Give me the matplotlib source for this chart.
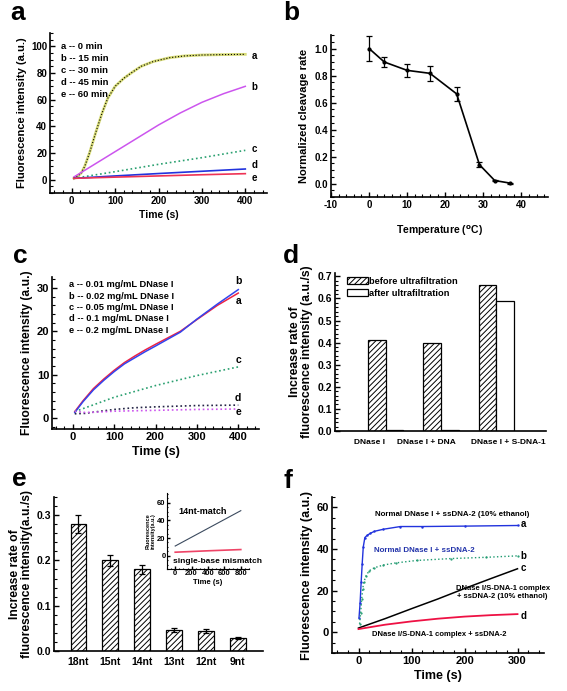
import numpy as np
import matplotlib
matplotlib.use("Agg")
import matplotlib.pyplot as plt

plt.rcParams["font.family"] = ["Liberation Sans", "DejaVu Sans"]
plt.rcParams["font.weight"] = "bold"
plt.rcParams["axes.labelweight"] = "bold"
plt.rcParams["mathtext.default"] = "bf"
plt.rcParams["hatch.linewidth"] = 0.7
plt.rcParams["axes.unicode_minus"] = False

# ---- panel a: time course after different incubation times
a_t_fast = [5, 15, 22, 30, 41, 56, 70, 83, 100, 120, 137, 160, 188, 226, 260, 300, 350, 400]
a_fast = [1, 3, 5, 10, 20, 36, 50, 61, 70, 76, 80, 85, 88.6, 91.5, 92.8, 93.5, 93.8, 94]
a_t_b = [5, 50, 100, 150, 200, 250, 300, 350, 400]
a_b = [2, 11, 21, 31, 41, 50, 58, 64.5, 70]
a_t_slow = [5, 100, 200, 300, 400]
a_c = [1, 6, 11.5, 16.5, 22]
a_d = [1, 2.8, 4.6, 6.3, 8]
a_e = [1, 1.9, 2.8, 3.7, 4.5]
a_legend = ["a -- 0 min", "b -- 15 min", "c -- 30 min", "d -- 45 min", "e -- 60 min"]

# ---- panel b: temperature
b_temp = [0, 4, 10, 16, 23, 29, 33, 37]
b_rate = [1.0, 0.90, 0.838, 0.816, 0.664, 0.139, 0.022, 0.003]
b_err = [0.095, 0.035, 0.046, 0.057, 0.052, 0.019, 0.005, 0.003]

# ---- panel c: DNase I concentration
c_t_ab = [5, 25, 50, 75, 100, 125, 150, 175, 200, 230, 260, 300, 350, 400]
c_a = [1.5, 4, 6.8, 9, 11, 12.8, 14.3, 15.7, 17, 18.5, 20, 22.7, 26, 28.8]
c_b = [1.3, 3.8, 6.5, 8.7, 10.7, 12.5, 13.9, 15.3, 16.6, 18.2, 19.8, 22.8, 26.3, 29.6]
c_t_c = [5, 100, 200, 300, 400]
c_c = [1.5, 4.8, 7.5, 9.8, 11.8]
c_t_d = [5, 30, 60, 100, 150, 200, 300, 400]
c_d = [1.0, 1.1, 1.5, 2.0, 2.4, 2.6, 2.9, 3.0]
c_t_e = [5, 30, 60, 100, 200, 300, 400]
c_e = [1.6, 1.3, 1.4, 1.6, 1.8, 2.0, 2.1]
c_legend = ["a -- 0.01 mg/mL DNase I", "b -- 0.02 mg/mL DNase I", "c -- 0.05 mg/mL DNase I",
            "d -- 0.1 mg/mL DNase I", "e -- 0.2 mg/mL DNase I"]

# ---- panel d: ultrafiltration
d_groups = ["DNase I", "DNase I + DNA", "DNase I + S-DNA-1"]
d_before = [0.414, 0.399, 0.662]
d_after = [0.005, 0.003, 0.590]

# ---- panel e: probe length
e_labels = ["18nt", "15nt", "14nt", "13nt", "12nt", "9nt"]
e_rate = [0.280, 0.200, 0.180, 0.047, 0.044, 0.029]
e_err = [0.020, 0.013, 0.010, 0.004, 0.004, 0.002]
inset_t = [0, 200, 400, 600, 800]
inset_match = [11, 21, 31, 41, 51]
inset_mismatch = [4, 4.8, 5.6, 6.3, 7]

# ---- panel f: ethanol
f_t_a = [1, 3, 5, 7, 9, 12, 16, 22, 30, 47, 79, 120, 200, 300]
f_a = [7, 14, 24, 33, 41, 45.5, 46.5, 47.5, 48.5, 49.5, 50.8, 50.8, 51, 51.3]
f_t_b = [2, 4, 6, 8, 10, 14, 20, 30, 47, 70, 110, 174, 240, 300]
f_b = [4, 9, 16, 21, 24, 27, 29.5, 31, 32.3, 33.3, 34.5, 35.4, 36, 36.7]
f_t_cd = [0, 50, 100, 150, 200, 250, 300]
f_c = [2, 6.5, 11.3, 16, 21, 25.8, 30.5]
f_d = [1.5, 3.6, 5.2, 6.5, 7.5, 8.2, 8.7]

W, H = 567, 691
fig = plt.figure(figsize=(W / 100, H / 100), dpi=100)


def px_axes(x0, y0, x1, y1):
    return fig.add_axes([x0 / W, 1 - y1 / H, (x1 - x0) / W, (y1 - y0) / H])


def style(ax, fs=7):
    for s in ["top", "right"]:
        ax.spines[s].set_visible(False)
    for s in ["left", "bottom"]:
        ax.spines[s].set_linewidth(1.2)
    ax.minorticks_on()
    ax.tick_params(which="major", direction="in", length=3.5, width=1, labelsize=fs, pad=2)
    ax.tick_params(which="minor", direction="in", length=2, width=0.8)


def panel_letter(x, y, s):
    fig.text(x / W, 1 - y / H, s, fontsize=19, fontweight="bold", va="baseline", ha="left")


# panel a
ax = px_axes(50, 33, 267, 193)
style(ax, 7)
ax.plot(a_t_fast, a_fast, color="#d8dc78", lw=2)
ax.plot(a_t_fast, a_fast, color="black", lw=0.8, ls=":")
ax.plot(a_t_b, a_b, color="#cc55ee", lw=1.1)
ax.plot(a_t_slow, a_c, color="#2aa070", lw=1.2, ls=":")
ax.plot(a_t_slow, a_d, color="#2233dd", lw=1.2)
ax.plot(a_t_slow, a_e, color="#ee3355", lw=1.2)
for lab, y in zip("abcde", [93, 69.7, 23, 11, 1.5]):
    ax.text(415, y, lab, fontsize=7, va="center", ha="left")
for i, s in enumerate(a_legend):
    ax.text(-25, 100 - 9.1 * i, s, fontsize=6.8, va="center")
ax.set_xlim(-50, 450)
ax.set_ylim(-10, 110)
ax.set_xticks([0, 100, 200, 300, 400])
ax.set_yticks([0, 20, 40, 60, 80, 100])
ax.set_xlabel("Time (s)", fontsize=7.5, labelpad=3)
ax.set_ylabel("Fluorescence intensity (a.u.)", fontsize=8, labelpad=3)
panel_letter(10, 20, "a")

# panel b
ax = px_axes(331, 35, 548, 197)
style(ax, 7)
ax.errorbar(b_temp, b_rate, yerr=b_err, color="black", lw=1.2, marker="o", ms=2,
            capsize=2.5, elinewidth=0.9, capthick=0.9)
ax.set_xlim(-10, 47)
ax.set_ylim(-0.1, 1.1)
ax.set_xticks([-10, 0, 10, 20, 30, 40])
ax.set_yticks([0.0, 0.2, 0.4, 0.6, 0.8, 1.0])
ax.set_xlabel(r"Temperature ($^{o}$C)", fontsize=7.5, labelpad=10)
ax.set_ylabel("Normalized cleavage rate", fontsize=8, labelpad=4)
panel_letter(283, 20, "b")

# panel c
ax = px_axes(52, 277, 259, 429)
style(ax, 8)
ax.plot(c_t_ab, c_a, color="#ee2244", lw=1.1)
ax.plot(c_t_ab, c_b, color="#3344ee", lw=1.1)
ax.plot(c_t_c, c_c, color="#2aa070", lw=1.2, ls=":")
ax.plot(c_t_d, c_d, color="#222244", lw=1.2, ls=":")
ax.plot(c_t_e, c_e, color="#cc55ee", lw=1.2, ls=":")
for lab, y in zip("badce", [31.5, 27, 4.6, 13.4, 1.3]):
    ax.text(400, y, lab, fontsize=7.5, va="center", ha="center")
for i, s in enumerate(c_legend):
    ax.text(-10, 30.7 - 2.62 * i, s, fontsize=6.7, va="center")
ax.set_xlim(-50, 450)
ax.set_ylim(-2.5, 32.5)
ax.set_xticks([0, 100, 200, 300, 400])
ax.set_yticks([0, 10, 20, 30])
ax.set_xlabel("Time (s)", fontsize=9, labelpad=3)
ax.set_ylabel("Fluorescence intensity (a.u.)", fontsize=8.7, labelpad=3)
panel_letter(13, 263, "c")

# panel d
ax = px_axes(335, 273, 546, 431)
style(ax, 7.5)
xg = np.arange(1, len(d_groups) + 1)
bw = 0.32
ax.bar(xg - bw / 2, d_before, bw, facecolor="white", edgecolor="black", hatch="//////",
       lw=0.9, label="before ultrafiltration")
ax.bar(xg + bw / 2, d_after, bw, facecolor="white", edgecolor="black",
       lw=0.9, label="after ultrafiltration")
ax.set_xlim(0.08, 3.9)
ax.set_ylim(0, 0.715)
ax.set_yticks([0.0, 0.1, 0.2, 0.3, 0.4, 0.5, 0.6, 0.7])
ax.set_xticks([0.70, 1.73, 3.22])
ax.set_xticklabels(d_groups, fontsize=6)
ax.tick_params(axis="x", which="both", length=0, pad=6)
ax.set_ylabel("Increase rate of\nfluorescence intensity (a.u./s)", fontsize=8.8, labelpad=3,
              linespacing=1.0)
ax.legend(loc="upper left", bbox_to_anchor=(0.04, 1.0), frameon=False, fontsize=6.7,
          handlelength=2.2, handleheight=0.9, handletextpad=0.2, labelspacing=0.3,
          borderaxespad=0)
panel_letter(283, 263, "d")

# panel e
ax = px_axes(54, 497, 263, 651)
style(ax, 7.5)
xe = np.arange(len(e_labels))
ax.bar(xe, e_rate, 0.5, yerr=e_err, facecolor="white", edgecolor="black", hatch="//////",
       lw=0.9, error_kw=dict(ecolor="black", elinewidth=0.9, capsize=2.5, capthick=0.9))
ax.set_xlim(-0.77, 5.8)
ax.set_ylim(0, 0.34)
ax.set_xticks(xe)
ax.set_xticklabels(e_labels, fontsize=7.5)
ax.tick_params(axis="x", which="both", length=0, pad=4)
ax.set_yticks([0.0, 0.1, 0.2, 0.3])
ax.set_ylabel("Increase rate of\nfluorescence intensity(a.u./s)", fontsize=8.7, labelpad=3,
              linespacing=1.0)
panel_letter(12, 486, "e")

ins = px_axes(167, 493, 249, 569)
style(ins, 5.5)
ins.tick_params(which="major", length=2, pad=1)
ins.tick_params(which="minor", length=1)
for s in ["left", "bottom"]:
    ins.spines[s].set_linewidth(0.8)
ins.plot(inset_t, inset_match, color="#3b4a5e", lw=0.8)
ins.plot(inset_t, inset_mismatch, color="#ee4466", lw=1.2)
ins.set_xlim(-100, 900)
ins.set_ylim(-15, 71)
ins.set_xticks([0, 200, 400, 600, 800])
ins.set_yticks([0, 20, 40, 60])
ins.text(340, 50, "14nt-match", fontsize=6.5, ha="center", va="center")
ins.text(520, -6, "single-base mismatch", fontsize=6, ha="center", va="center")
ins.set_xlabel("Time (s)", fontsize=5.5, labelpad=1)
ins.set_ylabel("Fluorescence\nintensity(a.u.)", fontsize=4, labelpad=1, linespacing=0.9)

# panel f
ax = px_axes(332, 497, 544, 653)
style(ax, 8)
ax.plot(f_t_a, f_a, color="#2233dd", lw=1.0, marker=".", ms=1.5)
ax.plot(f_t_b, f_b, color="#1f9a70", lw=1.0, ls=":")
ax.plot(f_t_b, f_b, color="#1f9a70", lw=0.8, marker=".", ms=1.2, ls="none")
ax.plot(f_t_cd, f_c, color="black", lw=1.1)
ax.plot(f_t_cd, f_d, color="#ee1144", lw=1.3)
for lab, y in zip("abcd", [52, 36.5, 30.8, 8]):
    ax.text(311, y, lab, fontsize=7, va="center", ha="center")
ax.text(177, 56.8, "Normal DNase I + ssDNA-2 (10% ethanol)", fontsize=5.7, ha="center", va="center")
ax.text(30, 39.2, "Normal DNase I + ssDNA-2", fontsize=5.7, ha="left", va="center", color="#2233aa")
ax.text(272, 19, "DNase I/S-DNA-1 complex\n+ ssDNA-2 (10% ethanol)", fontsize=5.5,
        ha="center", va="center", linespacing=1.1)
ax.text(152, -1.1, "DNase I/S-DNA-1 complex + ssDNA-2", fontsize=5.5, ha="center", va="center")
ax.set_xlim(-50, 350)
ax.set_ylim(-10, 65)
ax.set_xticks([0, 100, 200, 300])
ax.set_yticks([0, 20, 40, 60])
ax.set_xlabel("Time (s)", fontsize=9, labelpad=3)
ax.set_ylabel("Fluorescence intensity (a.u.)", fontsize=9, labelpad=3)
panel_letter(283, 488, "f")

fig.savefig("out.png", dpi=100)
